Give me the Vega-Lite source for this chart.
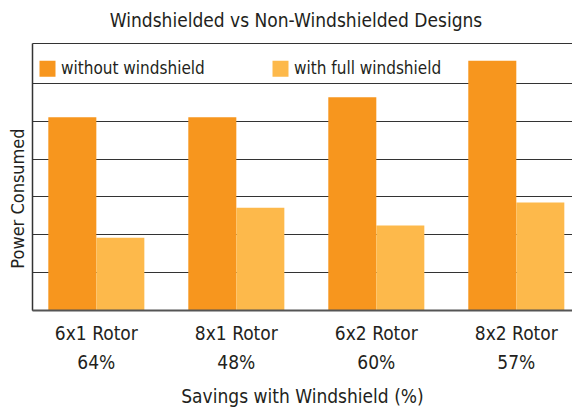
{
  "$schema": "https://vega.github.io/schema/vega-lite/v6.json",
  "autosize": {"type": "none"},
  "width": 540,
  "height": 267,
  "padding": {"left": 32, "top": 43, "right": 0, "bottom": 102},
  "background": "white",
  "title": {
    "text": "Windshielded vs Non-Windshielded Designs",
    "fontSize": 19,
    "font": "DejaVu Sans Condensed, Roboto",
    "fontWeight": "normal",
    "color": "#231f20",
    "anchor": "middle",
    "dx": -6,
    "offset": 12
  },
  "config": {
    "view": {"stroke": null},
    "font": "DejaVu Sans Condensed, Roboto"
  },
  "data": {
    "values": [
      {"rotor": "6x1 Rotor|64%", "series": "without windshield", "power": 5.09},
      {"rotor": "6x1 Rotor|64%", "series": "with full windshield", "power": 1.91},
      {"rotor": "8x1 Rotor|48%", "series": "without windshield", "power": 5.09},
      {"rotor": "8x1 Rotor|48%", "series": "with full windshield", "power": 2.70},
      {"rotor": "6x2 Rotor|60%", "series": "without windshield", "power": 5.62},
      {"rotor": "6x2 Rotor|60%", "series": "with full windshield", "power": 2.23},
      {"rotor": "8x2 Rotor|57%", "series": "without windshield", "power": 6.58},
      {"rotor": "8x2 Rotor|57%", "series": "with full windshield", "power": 2.84}
    ]
  },
  "mark": {"type": "bar"},
  "encoding": {
    "x": {
      "field": "rotor",
      "type": "nominal",
      "sort": null,
      "scale": {"paddingInner": 0.314, "paddingOuter": 0.0857, "align": 0.68},
      "axis": {
        "title": "Savings with Windshield (%)",
        "titleFontSize": 19,
        "titleFontWeight": "normal",
        "titleColor": "#231f20",
        "titlePadding": 15,
        "labelExpr": "split(datum.label, '|')",
        "labelFontSize": 19,
        "labelColor": "#231f20",
        "labelLineHeight": 29,
        "labelAngle": 0,
        "labelPadding": 14,
        "ticks": false,
        "domain": true,
        "domainColor": "#555555",
        "domainWidth": 2,
        "zindex": 1
      }
    },
    "xOffset": {
      "field": "series",
      "type": "nominal",
      "sort": ["without windshield", "with full windshield"],
      "scale": {"paddingInner": 0, "paddingOuter": 0}
    },
    "y": {
      "field": "power",
      "type": "quantitative",
      "scale": {"domain": [0, 7.05], "nice": false, "zero": true},
      "axis": {
        "title": "Power Consumed",
        "titleFontSize": 18,
        "titleFontWeight": "normal",
        "titleColor": "#231f20",
        "titleY": 155,
        "titlePadding": 5,
        "values": [0, 1, 2, 3, 4, 5, 6, 7.05],
        "labels": false,
        "ticks": false,
        "domain": true,
        "domainColor": "#333333",
        "domainWidth": 1.5,
        "grid": true,
        "gridColor": "#333333",
        "gridWidth": 1.2
      }
    },
    "color": {
      "field": "series",
      "type": "nominal",
      "sort": ["without windshield", "with full windshield"],
      "scale": {"domain": ["without windshield", "with full windshield"], "range": ["#F7961E", "#FDB94B"]},
      "legend": {
        "title": null,
        "orient": "none",
        "legendX": 7,
        "legendY": 17,
        "direction": "horizontal",
        "symbolType": "square",
        "symbolSize": 256,
        "symbolStrokeWidth": 0,
        "symbolOpacity": 1,
        "labelFontSize": 17,
        "labelColor": "#231f20",
        "labelOffset": 5,
        "columnPadding": 67
      }
    }
  }
}
